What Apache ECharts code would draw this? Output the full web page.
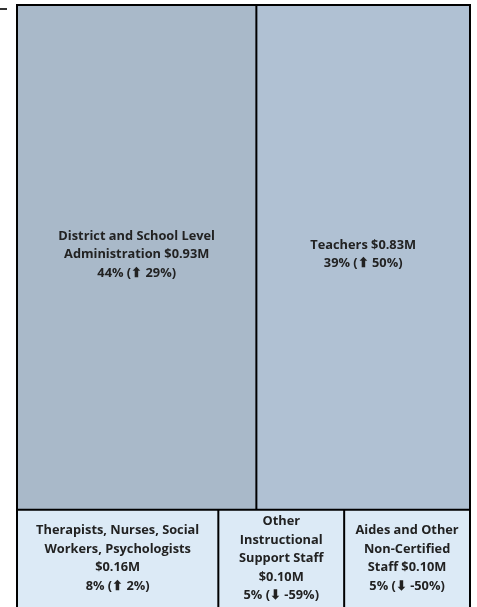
<!DOCTYPE html>
<html>
<head>
<meta charset="utf-8">
<script src="https://cdn.jsdelivr.net/npm/echarts@6/dist/echarts.min.js"></script>
<style>
  html, body { margin: 0; padding: 0; background: #ffffff; }
  #chart { width: 477px; height: 607px; }
</style>
</head>
<body>
<div id="chart"></div>
<script>
// Staff spending by category (millions of dollars)
const categories = [
  'District and School Level\nAdministration',
  'Teachers',
  'Therapists, Nurses, Social\nWorkers, Psychologists',
  'Other\nInstructional\nSupport Staff',
  'Aides and Other\nNon-Certified\nStaff'
];
const spend = [0.93, 0.83, 0.16, 0.10, 0.10];
const share = [44, 39, 8, 5, 5];
const change = [29, 50, 2, -59, -50];
// which categories sit in the upper band vs. the lower band
const band = ['upper', 'upper', 'lower', 'lower', 'lower'];
// separator placed between the name and the dollar amount
const valueSep = [' ', ' ', '\n', '\n', ' '];

const fills = ['#a9b9c9', '#b0c1d3', '#dceaf6', '#dceaf6', '#dceaf6'];

function leaf(i) {
  return {
    name: categories[i],
    value: spend[i],
    idx: i,
    itemStyle: { color: fills[i] }
  };
}

const groups = ['upper', 'lower'].map(b => {
  const kids = [];
  categories.forEach((c, i) => { if (band[i] === b) kids.push(leaf(i)); });
  return {
    name: b,
    value: kids.reduce((s, k) => s + k.value, 0),
    children: kids
  };
});

function labelText(p) {
  const i = p.data.idx;
  if (i === undefined) return '';
  const arrow = change[i] >= 0 ? '\u2B06' : '\u2B07';
  return categories[i] + valueSep[i] + '$' + spend[i].toFixed(2) + 'M\n' +
    share[i] + '% (' + arrow + ' ' + change[i] + '%)';
}

const chart = echarts.init(document.getElementById('chart'), null, { renderer: 'canvas' });
chart.setOption({
  animation: false,
  graphic: [{
    type: 'rect',
    shape: { x: 0, y: 8, width: 7, height: 2 },
    style: { fill: '#333333' }
  }],
  series: [{
    type: 'treemap',
    left: 16,
    right: 6,
    top: 4,
    bottom: -7,
    roam: false,
    nodeClick: false,
    sort: false,
    breadcrumb: { show: false },
    visibleMin: 0,
    upperLabel: { show: false },
    label: {
      show: true,
      position: 'inside',
      align: 'center',
      verticalAlign: 'middle',
      offset: [0, -3],
      padding: 0,
      fontFamily: 'Open Sans',
      fontWeight: 'bold',
      fontSize: 12.8,
      lineHeight: 18.5,
      color: '#222222',
      overflow: 'none',
      lineOverflow: 'none',
      formatter: labelText
    },
    // outer frame from the root, 1px edge on every cell: 2px black rules throughout
    levels: [
      { itemStyle: { borderWidth: 1, borderColor: '#000000', gapWidth: 0 } },
      { itemStyle: { borderWidth: 0, borderColor: '#000000', gapWidth: 0 } },
      { itemStyle: { borderWidth: 1, borderColor: '#000000', gapWidth: 0 } }
    ],
    data: groups
  }]
});
</script>
</body>
</html>
